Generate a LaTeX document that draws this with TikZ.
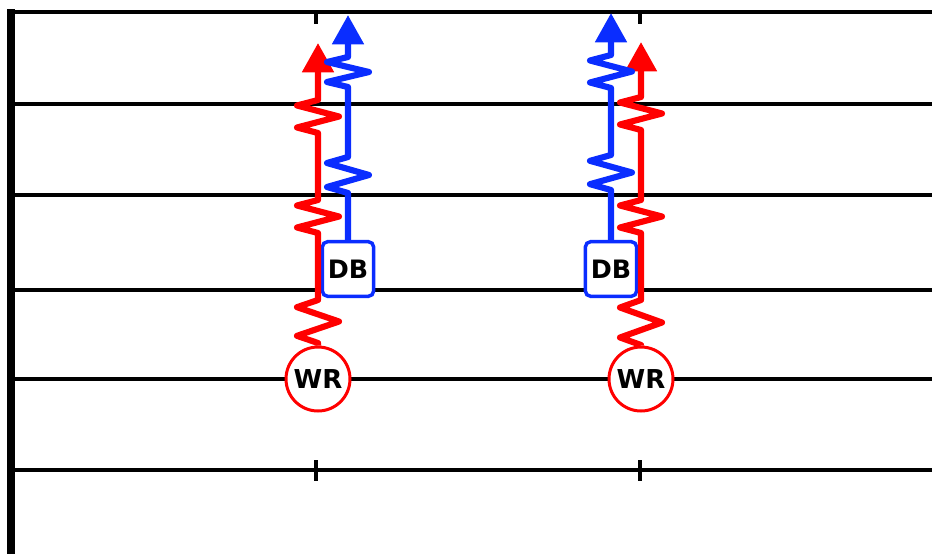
\documentclass[tikz,border=0pt]{standalone}
\usepackage{fontspec}
\usepackage{tikz}
\usetikzlibrary{arrows.meta}
\newfontfamily\playfont{DejaVu Sans}
\definecolor{routered}{RGB}{255,0,0}
\definecolor{routeblue}{RGB}{10,45,255}

\tikzset{
        yardline/.style={line width=3.4pt, black},
        zig/.style={insert path={-- ++(-21,-#1/6) -- ++(42,-#1/3) -- ++(-42,-#1/3) -- ++(21,-#1/6)}},
        redroute/.style={line width=4.6pt, routered, line join=round, -{Triangle[width=23pt,length=22pt]}},
        blueroute/.style={line width=4.6pt, routeblue, line join=round, -{Triangle[width=23pt,length=22pt]}},
        wrcircle/.style={circle, draw=routered, fill=white, line width=2.25pt, minimum size=48pt, inner sep=0pt,
                font=\playfont\bfseries\fontsize{19.5}{20}\selectfont},
        dbbox/.style={rectangle, rounded corners=4pt, draw=routeblue, fill=white, line width=2.6pt,
                minimum width=38.5pt, minimum height=41pt, inner sep=0pt,
                font=\playfont\bfseries\fontsize{19}{20}\selectfont}
}

\begin{document}
\begin{tikzpicture}[x=0.75pt, y=-0.75pt]
        \useasboundingbox (0,0) rectangle (932,554);
        \draw[yardline] (8,12) -- (932,12);
        \draw[yardline] (11,104) -- (932,104);
        \draw[yardline] (11,195) -- (932,195);
        \draw[yardline] (11,290) -- (932,290);
        \draw[yardline] (11,379) -- (932,379);
        \draw[yardline] (11,470) -- (932,470);
        \draw[line width=5.6pt] (11,9) -- (11,554);
        \draw[yardline] (316,12) -- (316,24);
        \draw[yardline] (640,12) -- (640,24);
        \draw[yardline] (316,460) -- (316,481);
        \draw[yardline] (640,460) -- (640,481);

        \node[wrcircle] (wr1) at (318,379) {WR};
        \node[wrcircle] (wr2) at (641,379) {WR};
        \node[dbbox] (db1) at (348,269) {DB};
        \node[dbbox] (db2) at (611,269) {DB};
        \coordinate (red1tip) at (318,43);
        \coordinate (blue1tip) at (348,15);
        \coordinate (red2tip) at (641,42);
        \coordinate (blue2tip) at (611,13);

        \draw[redroute] (wr1.north) -- (318,343) [zig=43] -- (318,233) [zig=33] -- (318,133) [zig=33] -- (red1tip);
        \draw[blueroute] (db1.north) -- (348,193) [zig=36] -- (348,87) [zig=30] -- (blue1tip);
        \draw[redroute] (wr2.north) -- (641,345) [zig=45] -- (641,233) [zig=33] -- (641,130) [zig=33] -- (red2tip);
        \draw[blueroute] (db2.north) -- (611,190) [zig=35] -- (611,88) [zig=33] -- (blue2tip);
\end{tikzpicture}
\end{document}
